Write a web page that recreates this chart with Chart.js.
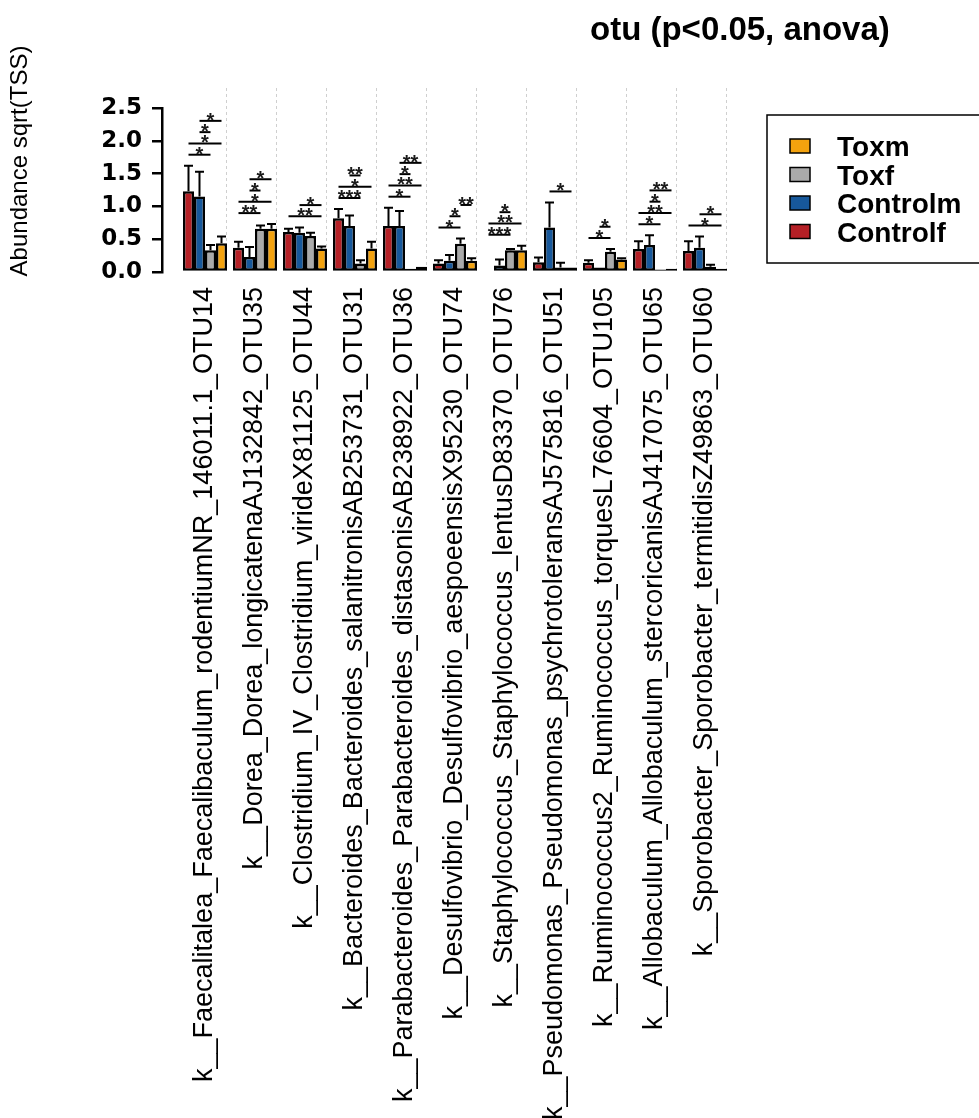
<!DOCTYPE html>
<html>
<head>
<meta charset="utf-8">
<script src="https://cdn.jsdelivr.net/npm/chart.js@4.4.1/dist/chart.umd.min.js"></script>
<style>
  html, body { margin: 0; padding: 0; background: #ffffff; }
  #wrap { width: 979px; height: 1118px; position: relative; }
</style>
</head>
<body>
<div id="wrap"><canvas id="chart"></canvas></div>
<script>
// OTU names (x categories)
const otuLabels = [
  'k__Faecalitalea_Faecalibaculum_rodentiumNR_146011.1_OTU14',
  'k__Dorea_Dorea_longicatenaAJ132842_OTU35',
  'k__Clostridium_IV_Clostridium_virideX81125_OTU44',
  'k__Bacteroides_Bacteroides_salanitronisAB253731_OTU31',
  'k__Parabacteroides_Parabacteroides_distasonisAB238922_OTU36',
  'k__Desulfovibrio_Desulfovibrio_aespoeensisX95230_OTU74',
  'k__Staphylococcus_Staphylococcus_lentusD83370_OTU76',
  'k__Pseudomonas_Pseudomonas_psychrotoleransAJ575816_OTU51',
  'k__Ruminococcus2_Ruminococcus_torquesL76604_OTU105',
  'k__Allobaculum_Allobaculum_stercoricanisAJ417075_OTU65',
  'k__Sporobacter_Sporobacter_termitidisZ49863_OTU60'
];

// group names, in bar order within each OTU
const seriesNames = ['Controlf', 'Controlm', 'Toxf', 'Toxm'];
const seriesColors = ['#B52026', '#17589B', '#AAAAAA', '#F3A20E'];

// mean abundance, sqrt(TSS)
const controlf = [1.23, 0.37, 0.61, 0.82, 0.70, 0.13, 0.02, 0.15, 0.14, 0.35, 0.32];
const controlm = [1.15, 0.23, 0.60, 0.70, 0.70, 0.17, 0.10, 0.68, 0.07, 0.41, 0.37];
const toxf     = [0.33, 0.66, 0.55, 0.13, 0.05, 0.43, 0.33, 0.07, 0.31, 0.04, 0.08];
const toxm     = [0.44, 0.66, 0.36, 0.36, 0.08, 0.17, 0.33, 0.07, 0.19, 0.05, 0.05];

// upper end of the error bars (mean + error)
const controlfUpper = [1.62, 0.46, 0.66, 0.96, 0.98, 0.18, 0.03, 0.22, 0.18, 0.47, 0.47];
const controlmUpper = [1.53, 0.38, 0.68, 0.86, 0.93, 0.26, 0.19, 1.06, 0.08, 0.56, 0.54];
const toxfUpper     = [0.41, 0.71, 0.60, 0.18, 0.06, 0.51, 0.35, 0.14, 0.35, 0.05, 0.11];
const toxmUpper     = [0.54, 0.73, 0.39, 0.46, 0.09, 0.21, 0.40, 0.08, 0.21, 0.06, 0.06];

// pairwise significance per OTU, bottom bracket first: [groupA, groupB, stars]
const sigPairs = [
  [[0, 2, '*'], [0, 3, '*'], [1, 2, '*'], [1, 3, '*']],
  [[0, 2, '**'], [0, 3, '*'], [1, 2, '*'], [1, 3, '*']],
  [[0, 3, '**'], [1, 3, '*']],
  [[0, 2, '***'], [0, 3, '*'], [1, 2, '**']],
  [[0, 2, '*'], [0, 3, '**'], [1, 2, '*'], [1, 3, '**']],
  [[0, 2, '*'], [1, 2, '*'], [2, 3, '**']],
  [[0, 2, '***'], [0, 3, '**'], [1, 2, '*']],
  [[1, 3, '*']],
  [[0, 2, '*'], [1, 2, '*']],
  [[0, 2, '*'], [0, 3, '**'], [1, 2, '*'], [1, 3, '**']],
  [[0, 3, '*'], [1, 3, '*']]
];

// y axis ticks
const yTickValues = [0, 0.5, 1.0, 1.5, 2.0, 2.5];
const yTickLabels = ['0.0', '0.5', '1.0', '1.5', '2.0', '2.5'];

const chartTitle = 'otu (p<0.05, anova)';
const yAxisTitle = 'Abundance sqrt(TSS)';

const seriesValues = [controlf, controlm, toxf, toxm];
const seriesUpper = [controlfUpper, controlmUpper, toxfUpper, toxmUpper];

const FONT = "'Liberation Sans', Arial, Helvetica, sans-serif";
Chart.defaults.font.family = FONT;
Chart.defaults.color = '#000000';

// dashed separators, error bars, significance brackets, title, axis title, legend
const decorations = {
  id: 'decorations',
  beforeDatasetsDraw(chart) {
    const ctx = chart.ctx;
    const xs = chart.scales.x;
    const area = chart.chartArea;
    ctx.save();
    ctx.strokeStyle = '#cfcfcf';
    ctx.lineWidth = 1;
    ctx.setLineDash([3, 3]);
    otuLabels.forEach((_, i) => {
      const px = Math.round(xs.getPixelForValue(i + 0.41)) + 0.5;
      ctx.beginPath();
      ctx.moveTo(px, area.top - 20);
      ctx.lineTo(px, area.bottom);
      ctx.stroke();
    });
    ctx.restore();
  },
  afterDatasetsDraw(chart) {
    const ctx = chart.ctx;
    const ys = chart.scales.y;
    ctx.save();
    // error bars
    ctx.strokeStyle = '#000000';
    ctx.lineWidth = 2;
    seriesUpper.forEach((upper, d) => {
      const meta = chart.getDatasetMeta(d);
      upper.forEach((u, i) => {
        const el = meta.data[i];
        const top = ys.getPixelForValue(u);
        if (el.y - top < 1) return;
        ctx.beginPath();
        ctx.moveTo(el.x, el.y);
        ctx.lineTo(el.x, top);
        ctx.moveTo(el.x - 4.5, top);
        ctx.lineTo(el.x + 4.5, top);
        ctx.stroke();
      });
    });
    // significance brackets
    ctx.lineWidth = 2;
    ctx.fillStyle = '#1a1a1a';
    ctx.font = 'bold 20px ' + FONT;
    ctx.textAlign = 'center';
    ctx.textBaseline = 'alphabetic';
    sigPairs.forEach((pairs, i) => {
      const base = Math.max(...seriesUpper.map(u => u[i]));
      pairs.forEach(([a, b, stars], k) => {
        const py = ys.getPixelForValue(base + 0.168 + 0.172 * k);
        const xa = chart.getDatasetMeta(a).data[i].x;
        const xb = chart.getDatasetMeta(b).data[i].x;
        ctx.beginPath();
        ctx.moveTo(xa, py);
        ctx.lineTo(xb, py);
        ctx.stroke();
        ctx.fillText(stars, (xa + xb) / 2, py + 6);
      });
    });
    ctx.restore();
  },
  afterDraw(chart) {
    const ctx = chart.ctx;
    ctx.save();
    // title
    ctx.fillStyle = '#000000';
    ctx.font = 'bold 33px ' + FONT;
    ctx.textAlign = 'left';
    ctx.textBaseline = 'alphabetic';
    ctx.fillText(chartTitle, 590, 40);
    // y axis title
    ctx.save();
    ctx.translate(27, 161);
    ctx.rotate(-Math.PI / 2);
    ctx.font = '24px ' + FONT;
    ctx.textAlign = 'center';
    ctx.fillText(yAxisTitle, 0, 0);
    ctx.restore();
    // legend (last group on top)
    ctx.strokeStyle = '#000000';
    ctx.lineWidth = 1.5;
    ctx.strokeRect(767, 115, 230, 148);
    ctx.font = 'bold 28px ' + FONT;
    const order = seriesNames.map((_, d) => d).reverse();
    order.forEach((d, r) => {
      const cy = 146 + r * 28.5;
      ctx.fillStyle = seriesColors[d];
      ctx.fillRect(790, cy - 7, 20, 14);
      ctx.lineWidth = 1.5;
      ctx.strokeRect(790, cy - 7, 20, 14);
      ctx.fillStyle = '#000000';
      ctx.fillText(seriesNames[d], 837, cy + 10);
    });
    ctx.restore();
  }
};

new Chart(document.getElementById('chart'), {
  type: 'bar',
  data: {
    datasets: seriesNames.map((name, d) => ({
      label: name,
      data: seriesValues[d].map((v, i) => ({ x: i, y: v })),
      backgroundColor: seriesColors[d],
      borderColor: '#000000',
      borderWidth: 2.5,
      borderSkipped: false,
      categoryPercentage: 0.88,
      barPercentage: 1.0
    }))
  },
  options: {
    responsive: true,
    maintainAspectRatio: false,
    devicePixelRatio: 1,
    animation: false,
    layout: { padding: { top: 108, left: 0, right: 249, bottom: 0 } },
    plugins: {
      legend: { display: false },
      title: { display: false },
      tooltip: { enabled: false }
    },
    scales: {
      x: {
        type: 'linear',
        offset: false,
        min: -0.86,
        max: 10.5,
        grid: { display: false, drawTicks: false },
        border: { display: false },
        afterBuildTicks: s => { s.ticks = otuLabels.map((_, i) => ({ value: i })); },
        ticks: {
          autoSkip: false,
          minRotation: 90,
          maxRotation: 90,
          padding: 15,
          color: '#000000',
          font: { size: 27, family: FONT },
          callback: (v, i) => otuLabels[i]
        },
        afterFit: s => { s.height = 846; }
      },
      y: {
        min: 0,
        max: 2.5,
        afterBuildTicks: s => { s.ticks = yTickValues.map(v => ({ value: v })); },
        ticks: {
          padding: 10,
          color: '#000000',
          font: { size: 23, weight: 'bold', family: "'DejaVu Sans', sans-serif" },
          callback: (v, i) => yTickLabels[i]
        },
        grid: { drawOnChartArea: false, drawTicks: true, tickLength: 10, color: '#000000', lineWidth: 2.5 },
        border: { display: true, color: '#000000', width: 2.5 },
        afterFit: s => { s.width = 162; }
      }
    }
  },
  plugins: [decorations]
});
</script>
</body>
</html>
